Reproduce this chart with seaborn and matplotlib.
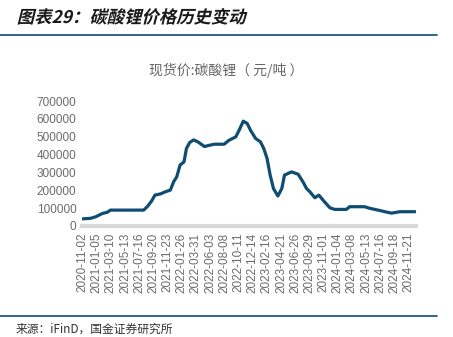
import matplotlib
matplotlib.use('Agg')
import matplotlib.pyplot as plt
import seaborn as sns
import pandas as pd
from matplotlib.patheffects import AbstractPathEffect
from matplotlib.transforms import Affine2D
from matplotlib.lines import Line2D

# ---- data ----
dates = [
    '2020-11-02', '2020-12-08', '2021-01-01', '2021-01-30', '2021-02-22', '2021-03-08',
    '2021-08-06', '2021-08-22', '2021-09-11', '2021-09-26', '2021-10-22', '2021-11-13',
    '2021-12-05', '2021-12-20', '2022-01-03', '2022-01-18', '2022-02-05', '2022-02-16',
    '2022-03-03', '2022-03-21', '2022-04-09', '2022-05-09', '2022-05-31', '2022-06-23',
    '2022-08-06', '2022-08-28', '2022-09-28', '2022-10-13', '2022-11-01', '2022-11-19',
    '2022-12-04', '2022-12-27', '2023-01-18', '2023-02-02', '2023-02-17', '2023-03-03',
    '2023-03-18', '2023-04-07', '2023-04-25', '2023-05-07', '2023-06-08', '2023-07-08',
    '2023-07-31', '2023-08-15', '2023-08-30', '2023-09-22', '2023-10-10', '2023-10-29',
    '2023-11-29', '2023-12-21', '2024-02-12', '2024-02-27', '2024-05-05', '2024-05-28',
    '2024-07-05', '2024-08-05', '2024-09-04', '2024-09-27', '2024-10-12', '2024-12-20',
]
prices = [
    40000, 43000, 52000, 70000, 77000, 89000,
    89000, 108000, 140000, 173000, 180000, 192000,
    201000, 248000, 275000, 341000, 359000, 434000,
    468000, 482000, 471000, 445000, 452000, 458000,
    458000, 480000, 499000, 536000, 587000, 574000,
    536000, 490000, 471000, 434000, 378000, 285000,
    210000, 168000, 210000, 285000, 303000, 290000,
    245000, 210000, 192000, 158000, 173000, 145000,
    102000, 93000, 93000, 108000, 108000, 99000,
    89000, 80000, 72000, 77000, 80000, 80000,
]
tick_labels = [
    '2020-11-02', '2021-01-05', '2021-03-10', '2021-05-13', '2021-07-16', '2021-09-20',
    '2021-11-23', '2022-01-26', '2022-03-31', '2022-06-03', '2022-08-08', '2022-10-11',
    '2022-12-14', '2023-02-16', '2023-04-21', '2023-06-26', '2023-08-29', '2023-11-01',
    '2024-01-04', '2024-03-08', '2024-05-13', '2024-07-16', '2024-09-18', '2024-11-21',
]
y_ticks = [0, 100000, 200000, 300000, 400000, 500000, 600000, 700000]

title_text = '图表29：碳酸锂价格历史变动'
chart_title = '现货价:碳酸锂（ 元/吨 ）'
source_text = '来源：iFinD，国金证券研究所'


class Skew(AbstractPathEffect):
    def __init__(self, shear_deg, y0):
        super().__init__()
        self.shear = shear_deg
        self.y0 = y0

    def draw_path(self, renderer, gc, tpath, affine, rgbFace=None):
        extra = Affine2D().translate(0, -self.y0).skew_deg(self.shear, 0).translate(0, self.y0)
        renderer.draw_path(gc, tpath, affine + extra, rgbFace)


sns.set_theme(style='white')
plt.rcParams['font.family'] = ['Liberation Sans', 'Noto Sans CJK SC', 'DejaVu Sans']

W, H = 453, 337
fig = plt.figure(figsize=(W / 100, H / 100), dpi=100)
ax = fig.add_axes([82 / W, 1 - 226 / H, (416 - 82) / W, (226 - 101) / H])

df = pd.DataFrame({'date': pd.to_datetime(dates), 'price': prices})
sns.lineplot(data=df, x='date', y='price', ax=ax, color='#0E4D71', linewidth=2.3)

ax.set_ylim(0, 700000)
ax.set_xlim(pd.Timestamp('2020-10-30'), pd.Timestamp('2024-12-24'))
ax.set_yticks(y_ticks)
ax.set_yticklabels([str(v) for v in y_ticks])
ax.set_xticks(pd.to_datetime(tick_labels))
ax.set_xticklabels(tick_labels, rotation=90)
ax.tick_params(axis='both', length=0, colors='#6b6b6b', labelsize=8.5)
ax.tick_params(axis='y', pad=4)
ax.tick_params(axis='x', pad=5)
ax.set_xlabel('')
ax.set_ylabel('')
for s in ['top', 'right', 'left']:
    ax.spines[s].set_visible(False)
ax.spines['bottom'].set_color('#d9d9d9')
ax.spines['bottom'].set_linewidth(3)
ax.spines['bottom'].set_zorder(0)

cjk = ['Noto Sans CJK SC', 'DejaVu Sans']
ty = 1 - 18 / H
fig.text(18 / W, ty, title_text, family=cjk, fontsize=12.5, fontweight='bold',
         color='#1a1a1a', ha='left', va='center',
         path_effects=[Skew(14, ty * H)])
fig.text(0.5, 1 - 70 / H, chart_title, family=cjk, fontsize=10, color='#666666',
         ha='center', va='center')
fig.text(16 / W, 1 - 329 / H, source_text, family=cjk, fontsize=8.5, color='#333333',
         ha='left', va='center')

fig.add_artist(Line2D([0, 437 / W], [1 - 35 / H] * 2, transform=fig.transFigure,
                      color='#1F5A85', linewidth=1.3))
fig.add_artist(Line2D([0, 437 / W], [1 - 316 / H] * 2, transform=fig.transFigure,
                      color='#1F5A85', linewidth=1.3))

fig.savefig('out.png', dpi=100)
